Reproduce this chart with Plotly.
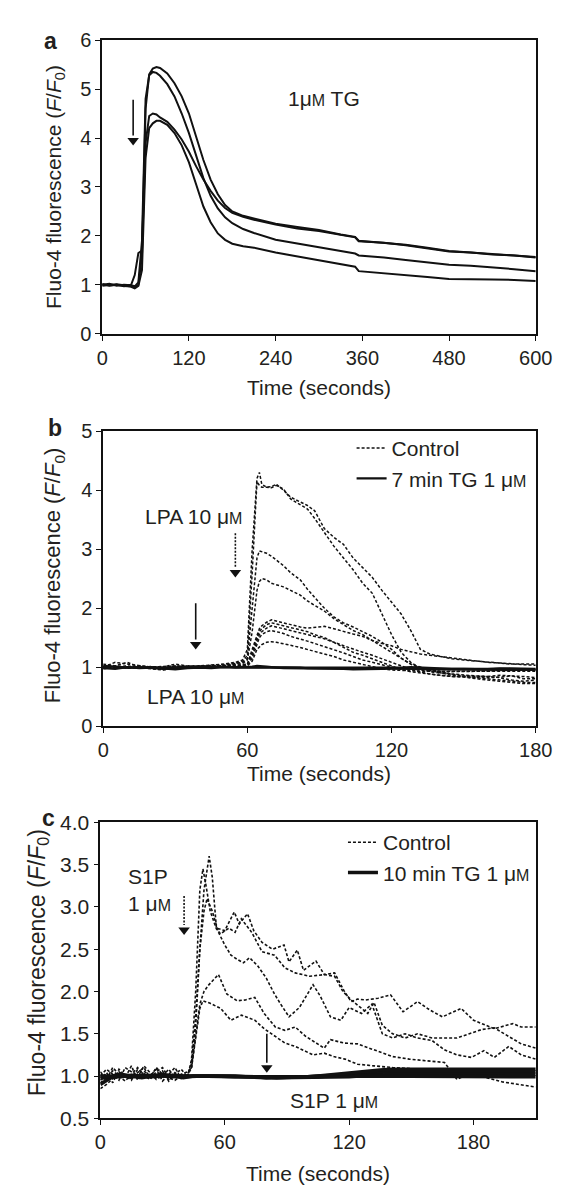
import plotly.graph_objects as go

INK = "#111111"
TXT = "#231f20"
FONT = "Liberation Sans, Arial, sans-serif"
UM = "\u03bc<span style='font-size:16px'>M</span>"

# ---------------- panel a : 1 uM TG (time in s, F/F0) ----------------
ta = [0, 10, 20, 30, 40, 45, 50, 55, 60, 65, 70, 75, 80, 90, 100, 110, 120, 130, 140, 150,
      160, 170, 180, 195, 210, 240, 270, 300, 330, 350, 355, 390, 420, 450, 480, 510, 540, 570, 600]
a1 = [1.02, 0.98, 1.0, 0.97, 0.98, 0.95, 1.0, 1.6, 4.6, 5.3, 5.42, 5.45, 5.43, 5.32, 5.12, 4.85,
      4.5, 4.02, 3.55, 3.15, 2.85, 2.63, 2.5, 2.41, 2.36, 2.25, 2.18, 2.12, 2.03, 1.98, 1.9,
      1.86, 1.82, 1.76, 1.69, 1.66, 1.63, 1.61, 1.57]
a2 = [1.0, 1.02, 0.98, 1.0, 0.99, 0.97, 1.05, 1.9, 4.8, 5.28, 5.35, 5.33, 5.27, 5.1, 4.85, 4.5,
      4.1, 3.62, 3.18, 2.82, 2.56, 2.38, 2.26, 2.14, 2.06, 1.92, 1.84, 1.76, 1.68, 1.64, 1.6,
      1.56, 1.51, 1.46, 1.41, 1.39, 1.36, 1.32, 1.28]
a3 = [0.98, 1.0, 1.01, 0.99, 1.0, 1.2, 1.65, 1.7, 3.9, 4.45, 4.5, 4.48, 4.42, 4.33, 4.17, 3.97,
      3.72, 3.42, 3.15, 2.92, 2.72, 2.57, 2.47, 2.39, 2.33, 2.23, 2.15, 2.1, 2.02, 1.97, 1.89,
      1.86, 1.81, 1.75, 1.68, 1.66, 1.62, 1.6, 1.56]
a4 = [1.0, 0.99, 1.0, 0.98, 0.96, 0.93, 0.98, 1.3, 3.6, 4.2, 4.3, 4.35, 4.35, 4.27, 4.1, 3.85,
      3.5, 3.05, 2.6, 2.28, 2.05, 1.92, 1.84, 1.79, 1.76, 1.66, 1.58, 1.5, 1.42, 1.37, 1.28,
      1.24, 1.2, 1.16, 1.12, 1.12, 1.11, 1.1, 1.08]

# ---------------- panel b : LPA 10 uM ----------------
tb = [0, 5, 10, 15, 20, 25, 30, 35, 40, 45, 50, 55,
      58, 60, 62, 64, 65, 66, 68, 70, 72, 75, 78, 82, 85, 88, 92, 96,
      100, 104, 108, 112, 116, 120, 124, 128, 132, 136, 140,
      145, 150, 155, 160, 165, 170, 175, 180]
b_ctrl = [
    [1.05, 1.02, 1.08, 1.0, 0.98, 1.0, 1.05, 1.02, 1.02, 1.03, 1.05, 1.08,
     1.12, 1.3, 3.0, 4.2, 4.3, 4.1, 4.05, 4.06, 4.1, 4.0, 3.88, 3.8, 3.74, 3.65, 3.35, 3.2,
     3.08, 2.85, 2.68, 2.52, 2.3, 2.1, 1.9, 1.62, 1.3, 1.22, 1.18,
     1.14, 1.12, 1.1, 1.08, 1.06, 1.05, 1.05, 1.05],
    [1.0, 1.08, 1.05, 1.02, 1.0, 0.98, 1.02, 1.0, 1.0, 1.02, 1.04, 1.06,
     1.1, 1.2, 2.6, 4.15, 4.08, 4.05, 4.05, 4.04, 4.08, 4.02, 3.85, 3.75, 3.68, 3.52, 3.28, 3.05,
     2.85, 2.65, 2.42, 2.25, 1.9, 1.55, 1.25, 1.08, 0.98, 0.92, 0.9,
     0.88, 0.86, 0.85, 0.84, 0.82, 0.78, 0.76, 0.78],
    [0.98, 1.0, 1.02, 0.99, 0.97, 0.95, 0.98, 1.0, 1.02, 1.0, 1.03, 1.05,
     1.08, 1.15, 2.0, 2.85, 2.97, 2.96, 2.93, 2.88, 2.82, 2.72, 2.6, 2.48, 2.32, 2.18, 2.0, 1.85,
     1.75, 1.68, 1.6, 1.52, 1.42, 1.3, 1.15, 1.05, 0.98, 0.94, 0.9,
     0.86, 0.84, 0.82, 0.8, 0.78, 0.76, 0.74, 0.74],
    [1.02, 1.0, 0.98, 1.0, 1.01, 0.99, 1.0, 1.02, 1.01, 1.03, 1.02, 1.05,
     1.06, 1.12, 1.6, 2.3, 2.45, 2.5, 2.48, 2.42, 2.4, 2.36, 2.3, 2.22, 2.12, 2.05, 1.95, 1.82,
     1.72, 1.62, 1.55, 1.45, 1.35, 1.26, 1.15, 1.05, 1.0, 0.96, 0.92,
     0.88, 0.85, 0.84, 0.84, 0.86, 0.85, 0.8, 0.8],
    [1.0, 1.02, 1.0, 0.98, 0.99, 1.0, 1.02, 1.0, 1.01, 1.0, 1.02, 1.03,
     1.04, 1.05, 1.3, 1.55, 1.65, 1.7, 1.76, 1.8, 1.78, 1.74, 1.72, 1.68, 1.66, 1.67, 1.69, 1.65,
     1.6, 1.56, 1.52, 1.45, 1.4, 1.36, 1.3, 1.26, 1.22, 1.2, 1.18,
     1.15, 1.12, 1.1, 1.08, 1.07, 1.05, 1.04, 1.03],
    [0.97, 1.0, 1.01, 1.0, 0.98, 0.96, 0.99, 1.01, 1.0, 1.02, 1.01, 1.02,
     1.03, 1.05, 1.25, 1.5, 1.6, 1.65, 1.72, 1.75, 1.73, 1.7, 1.68, 1.63, 1.6, 1.55, 1.5, 1.42,
     1.33, 1.25, 1.2, 1.14, 1.08, 1.02, 0.96, 0.92, 0.9, 0.88, 0.86,
     0.84, 0.83, 0.8, 0.78, 0.76, 0.74, 0.72, 0.72],
    [1.0, 0.99, 1.0, 1.02, 1.0, 0.98, 1.0, 1.0, 0.99, 1.0, 1.01, 1.02,
     1.02, 1.04, 1.2, 1.45, 1.55, 1.6, 1.66, 1.7, 1.68, 1.65, 1.62, 1.58, 1.55, 1.52, 1.48, 1.42,
     1.36, 1.3, 1.25, 1.2, 1.14, 1.08, 1.02, 0.96, 0.92, 0.88, 0.86,
     0.84, 0.84, 0.83, 0.82, 0.83, 0.85, 0.84, 0.82],
    [1.01, 1.0, 1.0, 0.99, 1.0, 1.0, 1.01, 0.99, 1.0, 1.01, 1.0, 1.02,
     1.02, 1.03, 1.15, 1.4, 1.5, 1.55, 1.6, 1.62, 1.6, 1.57, 1.52, 1.48, 1.44, 1.4, 1.35, 1.3,
     1.24, 1.18, 1.12, 1.08, 1.04, 1.0, 0.98, 0.96, 0.94, 0.93, 0.92,
     0.92, 0.92, 0.93, 0.93, 0.94, 0.94, 0.95, 0.95],
    [1.0, 1.0, 0.99, 1.0, 1.0, 1.01, 1.0, 1.0, 1.0, 1.0, 1.01, 1.01,
     1.01, 1.02, 1.1, 1.3, 1.35, 1.38, 1.42, 1.43, 1.42, 1.4, 1.37, 1.33, 1.3, 1.27, 1.22, 1.18,
     1.12, 1.08, 1.04, 1.0, 0.97, 0.95, 0.94, 0.93, 0.93, 0.93, 0.93,
     0.92, 0.92, 0.93, 0.93, 0.92, 0.92, 0.93, 0.93],
]
b_tg = [
    [1.02, 1.0, 0.99, 1.0, 0.98, 0.97, 0.98, 0.99, 1.0, 1.0, 1.01, 1.0,
     1.0, 1.0, 1.01, 1.02, 1.02, 1.01, 1.01, 1.0, 1.0, 1.0, 0.99, 0.99, 0.98, 0.98, 0.98, 0.98,
     0.97, 0.97, 0.97, 0.97, 0.97, 0.97, 0.98, 0.98, 0.97, 0.96, 0.96,
     0.95, 0.95, 0.95, 0.95, 0.95, 0.95, 0.96, 0.95],
    [0.98, 0.97, 1.0, 0.98, 0.99, 0.98, 0.96, 0.98, 0.99, 0.98, 1.0, 0.99,
     0.99, 0.99, 1.0, 1.0, 1.0, 1.0, 0.99, 0.99, 0.99, 0.98, 0.98, 0.98, 0.97, 0.97, 0.97, 0.97,
     0.97, 0.96, 0.96, 0.97, 0.97, 0.98, 0.98, 0.99, 0.98, 0.97, 0.97,
     0.96, 0.96, 0.97, 0.97, 0.98, 0.98, 0.98, 0.97],
    [1.0, 1.01, 0.99, 1.0, 1.0, 0.99, 1.0, 1.0, 1.01, 1.0, 1.0, 1.01,
     1.0, 1.01, 1.01, 1.0, 1.0, 1.0, 1.0, 1.0, 0.99, 0.99, 0.99, 0.99, 0.99, 0.98, 0.98, 0.98,
     0.98, 0.98, 0.98, 0.99, 0.99, 0.99, 0.99, 1.0, 0.99, 0.99, 0.98,
     0.97, 0.97, 0.96, 0.96, 0.97, 0.97, 0.96, 0.96],
]

# ---------------- panel c : S1P 1 uM ----------------
base_t = [0, 3, 6, 9, 12, 15, 18, 21, 24, 27, 30, 33, 36, 39, 42]
cA_t = base_t + [44, 46, 48, 50, 52.5, 54, 56, 60, 64.6, 67, 71, 74, 78, 83, 88.6, 91, 95, 98, 104, 108,
                 113, 117.5, 121, 124, 128, 134, 140, 146, 153, 159, 165, 174, 180, 186, 190, 199, 203, 210]
cA_v = [1.0, 1.08, 1.02, 0.95, 1.1, 1.05, 0.98, 1.12, 1.04, 0.96, 1.0, 1.08, 0.98, 1.02, 1.05,
        1.1, 1.6, 2.5, 3.2, 3.6, 3.35, 2.75, 2.72, 2.94, 2.8, 2.92, 2.72, 2.58, 2.5, 2.55, 2.35, 2.49, 2.25, 2.36, 2.2,
        2.22, 2.01, 1.88, 1.91, 1.9, 1.92, 1.96, 1.76, 1.88, 1.78, 1.70, 1.80, 1.66, 1.6, 1.56, 1.62, 1.58, 1.58]
cB_t = base_t + [44, 46, 48, 49.5, 51, 53, 56, 58, 62, 65, 68, 73, 78, 84, 89, 94, 101, 108, 113, 117,
                 121, 126, 129, 132, 136, 141, 147, 153, 160, 166, 172, 178, 184, 190, 197, 203, 210]
cB_v = [0.92, 0.98, 1.06, 1.0, 0.94, 1.02, 1.1, 1.0, 0.96, 1.05, 1.1, 0.98, 0.95, 1.0, 0.97,
        1.2, 2.0, 3.2, 3.45, 3.25, 2.95, 2.74, 2.68, 2.75, 2.7, 2.86, 2.7, 2.47, 2.43, 2.28, 2.22, 2.18, 2.2, 2.18, 2.0,
        1.9, 1.8, 1.74, 1.87, 1.6, 1.5, 1.45, 1.5, 1.45, 1.45, 1.45, 1.5, 1.55, 1.57, 1.47, 1.38, 1.33]
cC_t = base_t + [44, 46, 48, 50, 51.5, 54, 57, 60, 63, 66, 69, 72, 76, 80, 84, 87, 91, 96, 102.6, 106,
                 111, 116, 120, 126, 131, 136, 141, 147, 153, 160, 166, 172, 179, 185, 190, 197, 203, 210]
cC_v = [0.95, 1.04, 0.92, 1.08, 1.0, 0.97, 1.04, 1.1, 0.98, 1.0, 1.06, 0.94, 1.02, 1.08, 0.99,
        1.15, 1.7, 2.5, 2.95, 3.1, 2.95, 2.7, 2.55, 2.43, 2.38, 2.34, 2.4, 2.3, 2.16, 1.97, 1.85, 1.7, 1.81, 2.08, 1.95,
        1.7, 1.66, 1.81, 1.74, 1.85, 1.5, 1.45, 1.5, 1.45, 1.42, 1.31, 1.25, 1.22, 1.3, 1.22, 1.35, 1.25, 1.2]
cD_t = base_t + [44, 46, 48, 50, 52, 55, 57, 61, 66, 70, 74.5, 79, 84.4, 89, 94, 99, 104, 108, 111, 117.5,
                 124, 132, 141, 149, 157, 166, 172, 179, 186, 194, 202, 210]
cD_v = [0.85, 0.9, 0.97, 1.05, 1.0, 0.95, 1.08, 1.03, 0.98, 1.1, 1.02, 0.96, 1.04, 0.98, 1.0,
        1.1, 1.5, 1.85, 2.0, 2.07, 2.15, 2.2, 1.97, 1.89, 1.9, 1.93, 1.74, 1.58, 1.54, 1.58, 1.47, 1.39, 1.33, 1.43, 1.39,
        1.38, 1.31, 1.23, 1.2, 1.18, 1.16, 0.96, 1.04, 0.98, 0.93, 0.9, 0.87]
cE_t = base_t + [44, 46, 48, 49.5, 53, 58, 63, 68, 74.5, 79, 84, 89, 94, 99, 102.6, 108, 112.6, 118, 124, 132,
                 141, 155, 170, 185, 200, 210]
cE_v = [1.05, 0.96, 1.1, 1.02, 0.98, 1.12, 0.95, 1.06, 1.0, 1.08, 0.94, 1.02, 1.1, 0.97, 1.03,
        1.1, 1.45, 1.8, 1.89, 1.86, 1.8, 1.66, 1.72, 1.66, 1.56, 1.47, 1.39, 1.35, 1.29, 1.25, 1.27, 1.23, 1.2, 1.14, 1.12,
        1.1, 1.08, 1.06, 1.05, 1.04, 1.03]
c_ctrl = [(cA_t, cA_v), (cB_t, cB_v), (cC_t, cC_v), (cD_t, cD_v), (cE_t, cE_v)]

tc_tg = [0, 5, 10, 15, 20, 25, 30, 35, 40, 45, 50, 55, 60, 65, 70, 75, 80, 85, 90, 95, 100, 105,
         110, 115, 120, 125, 130, 135, 140, 145, 150, 155, 160, 165, 170, 175, 180, 185, 190, 195, 200, 205, 210]
c_tg = [
    [0.9, 0.98, 1.0, 0.99, 1.0, 1.01, 1.0, 0.99, 1.0, 1.0, 1.0, 1.0, 1.0, 1.0, 1.0, 0.99, 0.99, 0.98, 0.98, 0.99,
     0.99, 1.0, 1.0, 1.01, 1.02, 1.03, 1.04, 1.05, 1.05, 1.05, 1.05, 1.05, 1.05, 1.06, 1.05, 1.05, 1.05, 1.05, 1.06, 1.05,
     1.05, 1.05, 1.05],
    [0.97, 1.0, 1.02, 1.0, 0.98, 1.0, 1.02, 1.0, 0.98, 1.0, 1.0, 1.01, 1.0, 1.0, 0.99, 0.99, 0.98, 0.98, 0.98, 0.98,
     0.99, 0.99, 1.0, 1.0, 1.0, 1.01, 1.01, 1.01, 1.02, 1.02, 1.02, 1.02, 1.02, 1.02, 1.03, 1.02, 1.02, 1.02, 1.02, 1.03,
     1.02, 1.02, 1.02],
    [1.0, 1.0, 0.99, 1.01, 1.0, 0.99, 1.0, 1.01, 1.0, 1.0, 1.0, 1.0, 1.0, 0.99, 0.99, 0.99, 0.98, 0.98, 0.98, 0.99,
     0.99, 1.0, 1.01, 1.02, 1.04, 1.05, 1.06, 1.07, 1.08, 1.08, 1.08, 1.08, 1.08, 1.08, 1.08, 1.08, 1.08, 1.07, 1.07, 1.08,
     1.08, 1.08, 1.08],
    [1.0, 0.99, 1.0, 1.0, 1.01, 1.0, 1.0, 1.0, 0.99, 1.0, 1.0, 1.0, 0.99, 0.99, 0.99, 0.98, 0.98, 0.98, 0.98, 0.98,
     0.98, 0.98, 0.99, 0.99, 0.99, 1.0, 1.0, 1.0, 1.0, 1.0, 1.0, 1.0, 0.99, 0.99, 1.0, 1.0, 0.99, 0.99, 0.99, 0.99,
     0.99, 0.99, 0.99],
]

DASH = "3px,2px"
fig = go.Figure()

for ys in (a1, a2, a3, a4):
    fig.add_trace(go.Scatter(x=ta, y=ys, mode="lines", line=dict(color=INK, width=2),
                             xaxis="x", yaxis="y", showlegend=False, hoverinfo="skip"))

for i, ys in enumerate(b_ctrl):
    fig.add_trace(go.Scatter(x=tb, y=ys, mode="lines", line=dict(color=INK, width=1.5, dash=DASH),
                             xaxis="x2", yaxis="y2", name="Control", legend="legend",
                             showlegend=(i == 0), hoverinfo="skip"))
for i, ys in enumerate(b_tg):
    fig.add_trace(go.Scatter(x=tb, y=ys, mode="lines", line=dict(color=INK, width=2.2),
                             xaxis="x2", yaxis="y2", name="7 min TG 1 " + UM, legend="legend",
                             showlegend=(i == 0), hoverinfo="skip"))

for i, (tt, ys) in enumerate(c_ctrl):
    fig.add_trace(go.Scatter(x=tt, y=ys, mode="lines", line=dict(color=INK, width=1.6, dash=DASH),
                             xaxis="x3", yaxis="y3", name="Control", legend="legend2",
                             showlegend=(i == 0), hoverinfo="skip"))
for i, ys in enumerate(c_tg):
    fig.add_trace(go.Scatter(x=tc_tg, y=ys, mode="lines", line=dict(color=INK, width=3.5),
                             xaxis="x3", yaxis="y3", name="10 min TG 1 " + UM, legend="legend2",
                             showlegend=(i == 0), hoverinfo="skip"))


# addition arrows: shaft + triangle head (head offset is half a marker, in data units)
def arrow(xr, yr, x, y_top, y_tip, half, dotted=False):
    dash = "2px,1.5px" if dotted else "solid"
    fig.add_trace(go.Scatter(x=[x, x], y=[y_top, y_tip + 2 * half], mode="lines",
                             line=dict(color=INK, width=1.6, dash=dash),
                             xaxis=xr, yaxis=yr, showlegend=False, hoverinfo="skip"))
    fig.add_trace(go.Scatter(x=[x], y=[y_tip + half], mode="markers",
                             marker=dict(symbol="triangle-down", size=10, color=INK, line=dict(width=0)),
                             xaxis=xr, yaxis=yr, showlegend=False, hoverinfo="skip"))


arrow("x", "y", 42.8, 4.78, 3.85, 0.1)
arrow("x2", "y2", 38.5, 2.08, 1.3, 0.083)
arrow("x2", "y2", 55.0, 3.27, 2.52, 0.083, dotted=True)
arrow("x3", "y3", 40.4, 3.13, 2.67, 0.058, dotted=True)
arrow("x3", "y3", 80.3, 1.5, 1.04, 0.058)

ann = []


def label(xr, yr, x, y, text, size=21, **kw):
    kw.setdefault("xanchor", "center")
    kw.setdefault("yanchor", "middle")
    ann.append(dict(x=x, y=y, xref=xr, yref=yr, text=text, showarrow=False,
                    font=dict(family=FONT, size=size, color=TXT), **kw))


label("x", "y", 307, 4.81, "1" + UM + " TG")
label("x2", "y2", 37.5, 3.56, "LPA 10 " + UM)
label("x2", "y2", 38.5, 0.5, "LPA 10 " + UM)
label("x3", "y3", 12.5, 3.2, "S1P<br>1 " + UM, xanchor="left", align="left")
label("x3", "y3", 112.6, 0.71, "S1P 1 " + UM)

H = 1186.0
W = 562.0


def py(p):
    return 1 - p / H


ytitle = "Fluo-4 fluorescence (<i>F</i>/<i>F</i><sub>0</sub>)"
label("paper", "paper", 42 / W, py(170), ytitle, textangle=-90)
label("paper", "paper", 42 / W, py(566), ytitle, size=22, textangle=-90)
label("paper", "paper", 25 / W, py(961), ytitle, size=23, textangle=-90)
label("x", "paper", 300, py(375), "Time (seconds)")
label("x2", "paper", 90, py(768), "Time (seconds)")
label("x3", "paper", 105, py(1176), "Time (seconds)")
for letter, xp, yp in (("a", 38, 21), ("b", 43, 416), ("c", 36, 814)):
    label("paper", "paper", xp / W, py(yp), "<b>%s</b>" % letter, size=23)

fig.update_layout(annotations=ann)


def xax(dom, rng, ticks, anchor, size=20):
    return dict(domain=dom, range=rng, tickvals=ticks, anchor=anchor, showgrid=False, zeroline=False,
                showline=True, linecolor=INK, linewidth=1.6, mirror=True, ticks="outside", ticklen=5,
                tickwidth=1.4, tickcolor=INK, tickfont=dict(family=FONT, size=size, color=TXT))


fig.update_layout(
    width=562, height=1186, margin=dict(l=0, r=0, t=0, b=0),
    paper_bgcolor="white", plot_bgcolor="white",
    font=dict(family=FONT, color=TXT),
    xaxis=xax([92 / W, 544 / W], [0, 600], [0, 120, 240, 360, 480, 600], "y"),
    yaxis=xax([py(320), py(20.5)], [0, 6], [0, 1, 2, 3, 4, 5, 6], "x"),
    xaxis2=xax([93 / W, 544 / W], [0, 180], [0, 60, 120, 180], "y2"),
    yaxis2=xax([py(720), py(419.3)], [0, 5], [0, 1, 2, 3, 4, 5], "x2"),
    xaxis3=xax([90 / W, 544 / W], [0, 210], [0, 60, 120, 180], "y3"),
    yaxis3=xax([py(1120), py(818.3)], [0.5, 4.0], [0.5, 1.0, 1.5, 2.0, 2.5, 3.0, 3.5, 4.0], "x3", size=21),
    legend=dict(x=352 / W, y=py(416), xanchor="left", yanchor="top", bgcolor="rgba(0,0,0,0)",
                font=dict(family=FONT, size=21, color=TXT), tracegroupgap=0, itemwidth=30),
    legend2=dict(x=343 / W, y=py(818), xanchor="left", yanchor="top", bgcolor="rgba(0,0,0,0)",
                 font=dict(family=FONT, size=21, color=TXT), tracegroupgap=0, itemwidth=30),
)
fig.update_yaxes(tickformat=".1f", selector=dict(anchor="x3"))

fig.write_html("out.html")
